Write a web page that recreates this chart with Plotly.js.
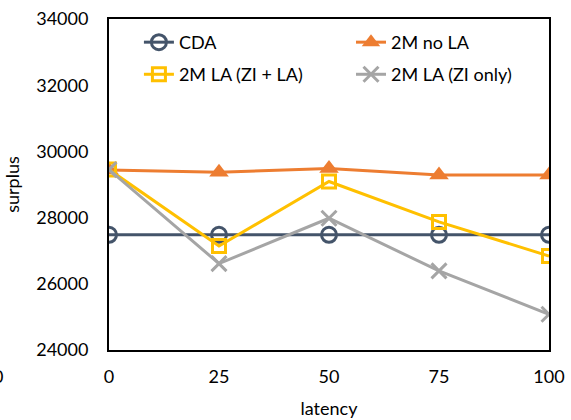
<!DOCTYPE html>
<html>
<head>
<meta charset="utf-8">
<script src="https://cdn.plot.ly/plotly-3.0.1.min.js"></script>
<style>html,body{margin:0;padding:0;background:#fff;}#chart{width:571px;height:420px;}</style>
</head>
<body>
<div id="chart"></div>
<script>
const latency = [0, 25, 50, 75, 100];
const cda = [27480, 27480, 27480, 27480, 27480];
const noLA = [29440, 29370, 29480, 29290, 29290];
const laZiLa = [29450, 27140, 29090, 27870, 26840];
const laZiOnly = [29450, 26610, 27980, 26390, 25080];
const yTicks = [24000, 26000, 28000, 30000, 32000, 34000];

const FONT = 'Lato, "Open Sans", sans-serif';

const traces = [
  {x: latency, y: cda, name: 'CDA', mode: 'lines+markers', legend: 'legend',
   line: {color: '#44546A', width: 3},
   marker: {symbol: 'circle-open', size: 15, color: '#44546A', line: {width: 3, color: '#44546A'}}},
  {x: latency, y: noLA, name: '2M no LA', mode: 'lines+markers', legend: 'legend2',
   line: {color: '#ED7D31', width: 3},
   marker: {symbol: 'triangle-up', size: 17, color: '#ED7D31'}},
  {x: latency, y: laZiLa, name: '2M LA (ZI + LA)', mode: 'lines+markers', legend: 'legend3',
   line: {color: '#FFC000', width: 3},
   marker: {symbol: 'square-open', size: 13, color: '#FFC000', line: {width: 3, color: '#FFC000'}}},
  {x: latency, y: laZiOnly, name: '2M LA (ZI only)', mode: 'lines+markers', legend: 'legend4',
   line: {color: '#A5A5A5', width: 3},
   marker: {symbol: 'x-thin-open', size: 15, color: '#A5A5A5', line: {width: 3, color: '#A5A5A5'}}}
];

const legendFont = {family: FONT, size: 18, color: '#000'};
function leg(x, y) {
  return {x: x, y: y, xanchor: 'left', yanchor: 'top', orientation: 'h',
          font: legendFont, bgcolor: 'rgba(0,0,0,0)', borderwidth: 0};
}

const layout = {
  width: 571, height: 420,
  margin: {l: 109, r: 22, t: 19, b: 70},
  paper_bgcolor: '#fff', plot_bgcolor: '#fff',
  font: {family: FONT, size: 18, color: '#000'},
  showlegend: true,
  legend: leg(0.068, 0.985),
  legend2: leg(0.550, 0.985),
  legend3: leg(0.068, 0.888),
  legend4: leg(0.550, 0.888),
  xaxis: {range: [0, 100], tickvals: latency, ticktext: latency.map(String),
          showgrid: false, zeroline: false, showline: true, mirror: true,
          linecolor: '#000', linewidth: 2, ticks: '', ticklabelstandoff: 9,
          title: {text: 'latency', standoff: 17, font: {family: FONT, size: 18}}},
  yaxis: {range: [24000, 34000], tickvals: yTicks, ticktext: yTicks.map(String),
          showgrid: false, zeroline: false, showline: true, mirror: true,
          linecolor: '#000', linewidth: 2, ticks: '', ticklabelstandoff: 15,
          title: {text: 'surplus', standoff: 12, font: {family: FONT, size: 18}}},
  annotations: [
    {text: '0', xref: 'paper', yref: 'paper', x: -0.253, y: -0.079,
     showarrow: false, xanchor: 'center', yanchor: 'middle', font: {family: FONT, size: 18, color: '#000'}}
  ]
};

Plotly.newPlot('chart', traces, layout, {displayModeBar: false, staticPlot: true});
</script>
</body>
</html>
